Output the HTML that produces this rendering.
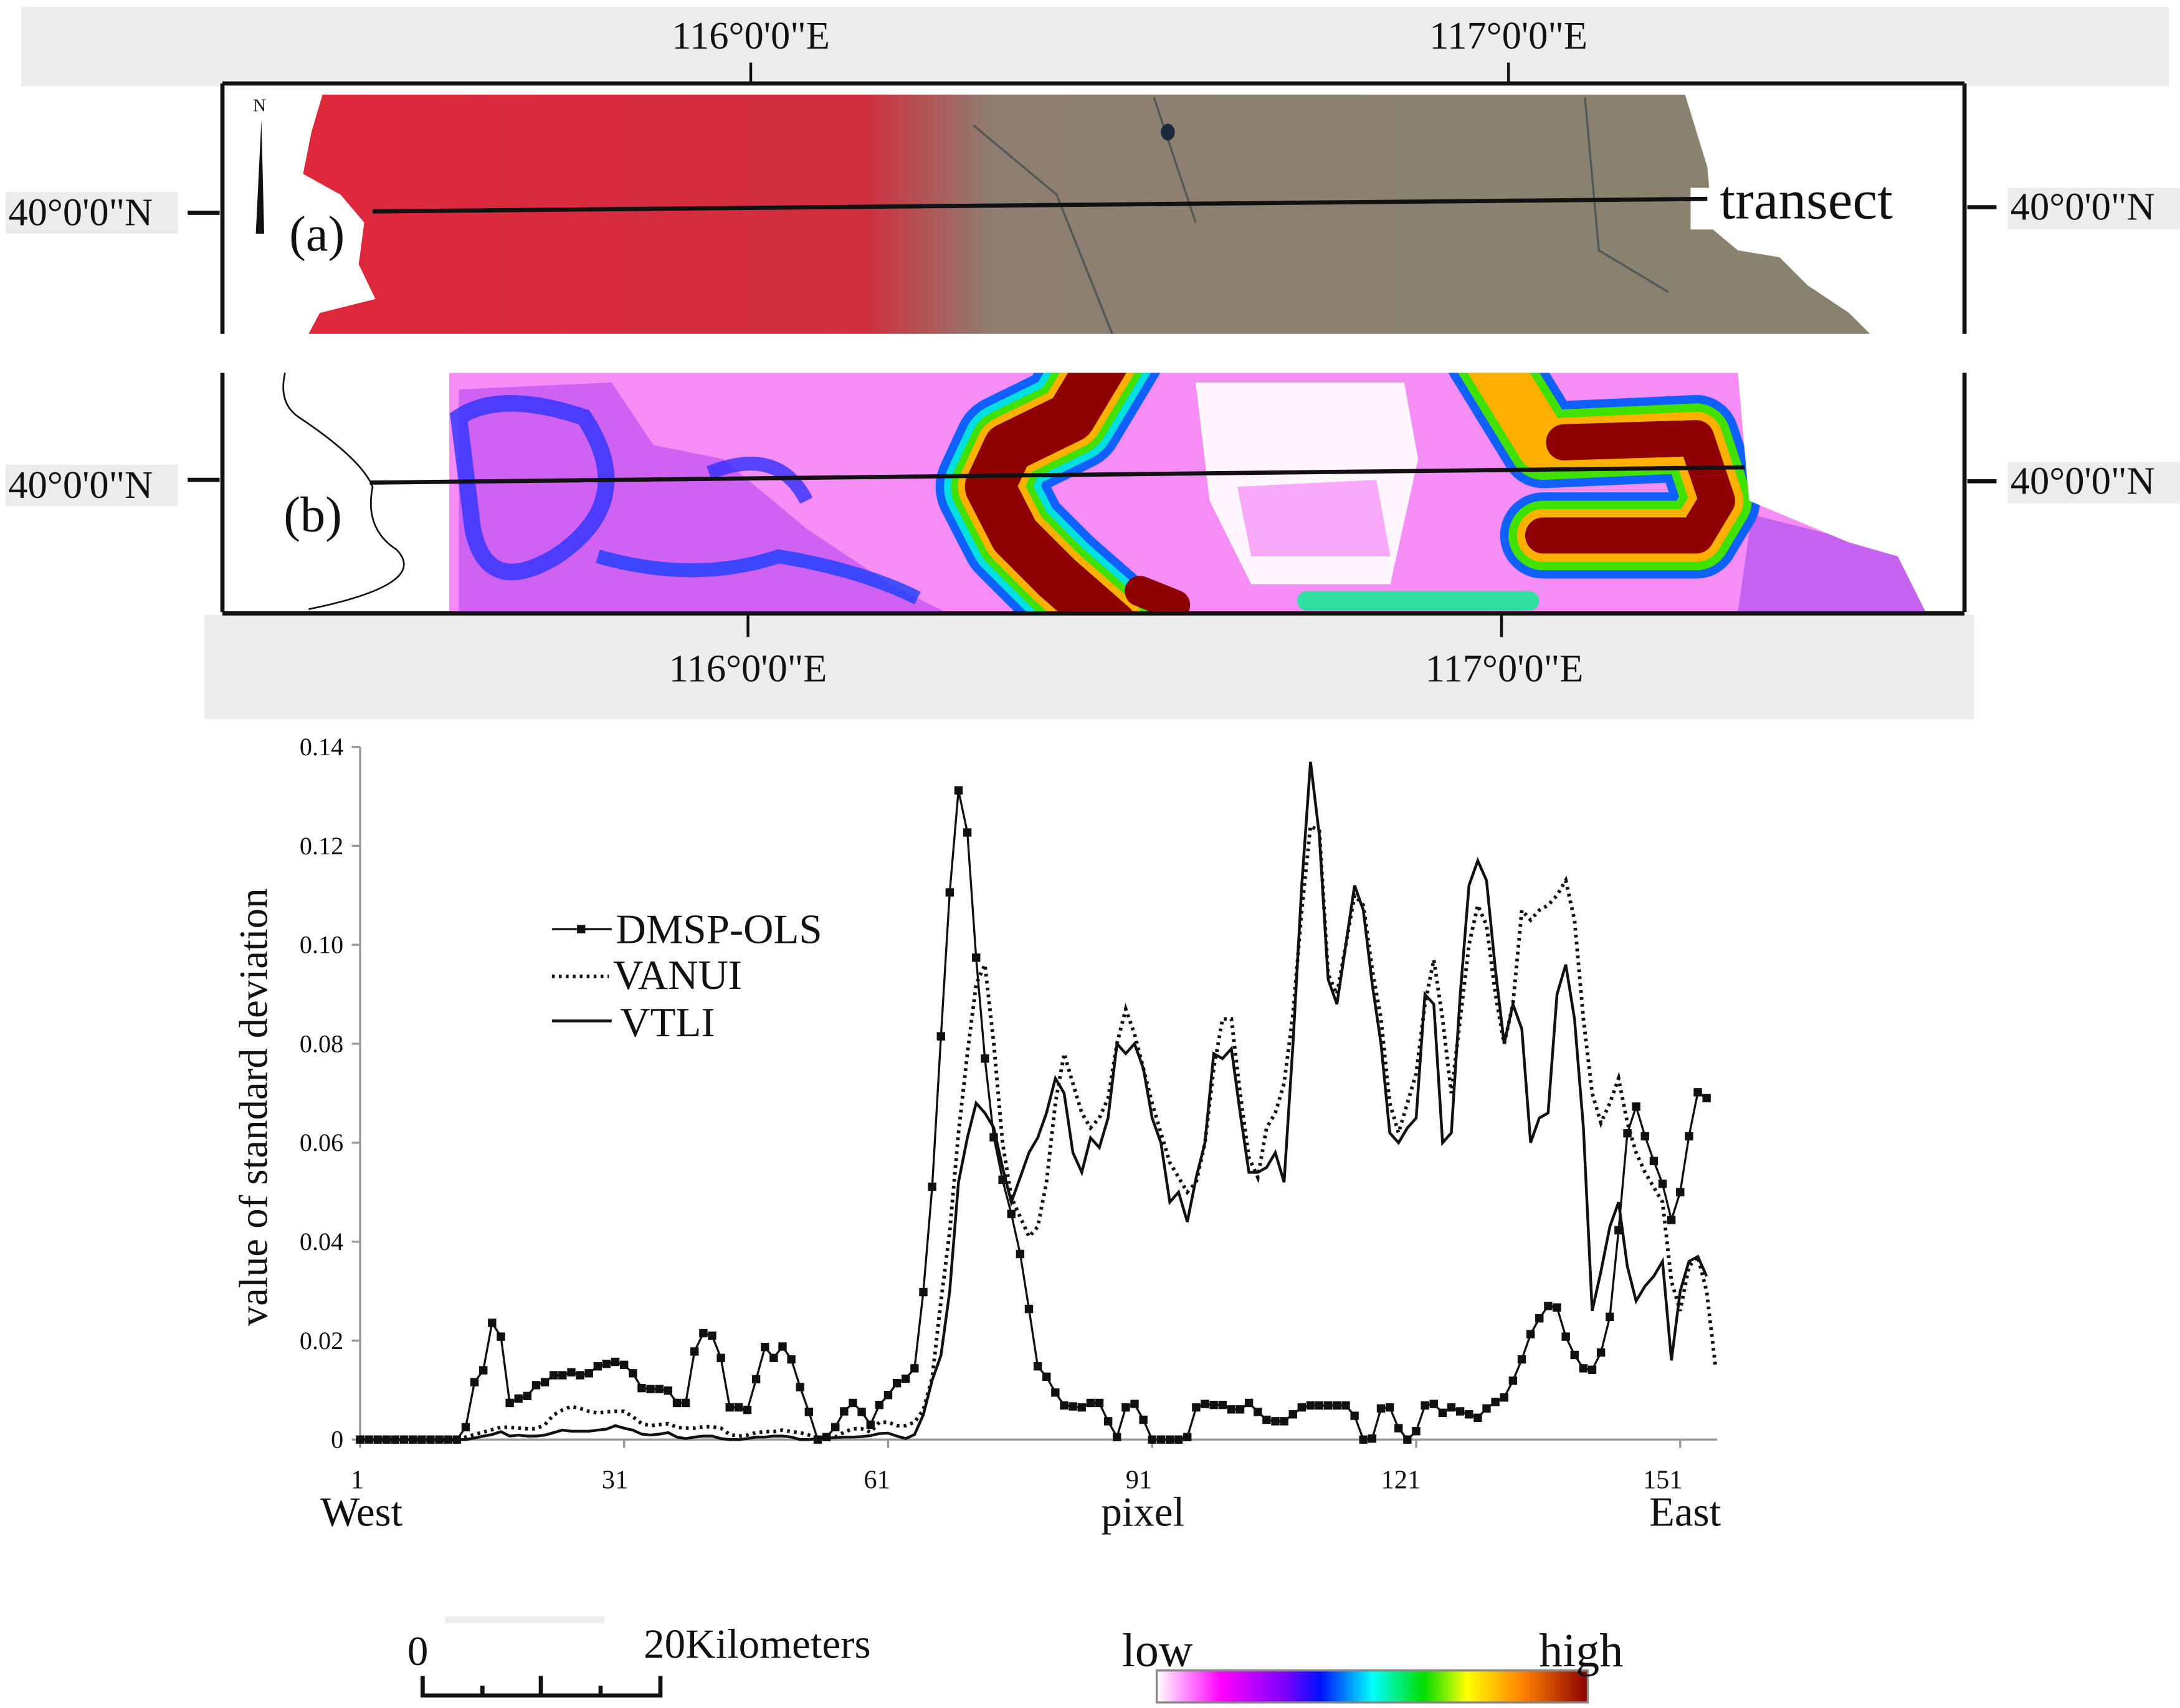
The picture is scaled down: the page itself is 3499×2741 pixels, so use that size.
<!DOCTYPE html>
<html><head><meta charset="utf-8"><style>
html,body{margin:0;padding:0;background:#fff;}
svg{display:block;}
text{font-family:"Liberation Serif",serif;fill:#111;}
</style></head><body>
<svg id="fig" width="3499" height="2741" viewBox="0 0 1568 1228" preserveAspectRatio="none" xmlns="http://www.w3.org/2000/svg">
<defs>
<linearGradient id="redgray" x1="0" x2="1" y1="0" y2="0">
<stop offset="0" stop-color="#e0283c"/><stop offset="0.36" stop-color="#d0303f"/><stop offset="0.44" stop-color="#8e7f70"/><stop offset="1" stop-color="#88836f"/>
</linearGradient>
<linearGradient id="cbar" x1="0" x2="1" y1="0" y2="0">
<stop offset="0" stop-color="#ffffff"/><stop offset="0.15" stop-color="#ff00ff"/><stop offset="0.3" stop-color="#7a00ff"/><stop offset="0.38" stop-color="#0010ff"/><stop offset="0.5" stop-color="#00ffff"/><stop offset="0.62" stop-color="#00dd00"/><stop offset="0.72" stop-color="#ffff00"/><stop offset="0.85" stop-color="#ff8000"/><stop offset="1" stop-color="#8b0000"/>
</linearGradient>
<clipPath id="hmclip"><path d="M323,268 L1250,268 L1258,360 L1330,390 L1365,400 L1385,440 L323,440 Z"/></clipPath>
</defs>

<g>
<rect x="15" y="5" width="1545" height="57" fill="#ececec"/>
<text x="540" y="35" font-size="28" text-anchor="middle">116°0'0"E</text>
<text x="1085" y="35" font-size="28" text-anchor="middle">117°0'0"E</text>
<line x1="540" y1="45" x2="540" y2="60" stroke="#111" stroke-width="2"/>
<line x1="1085" y1="45" x2="1085" y2="60" stroke="#111" stroke-width="2"/>
<rect x="160" y="62" width="1253" height="178" fill="#fff"/>
<path d="M232,68 L1212,68 L1228,120 L1232,165 L1250,180 L1280,185 L1300,205 L1330,225 L1345,240 L222,240 L230,225 L270,215 L258,190 L262,160 L245,140 L218,125 L224,95 Z" fill="url(#redgray)"/>
<path d="M700,90 L760,140 L800,240 M830,70 L860,160 M1140,70 L1150,180 L1200,210" stroke="#2a4048" stroke-width="1.5" fill="none" opacity="0.6"/>
<ellipse cx="840" cy="95" rx="5" ry="6" fill="#1a2a3a"/>
<rect x="1216" y="135" width="195" height="30" fill="#fff"/>
<line x1="268" y1="152" x2="1228" y2="143" stroke="#111" stroke-width="3"/>
<text x="1237" y="157" font-size="40">transect</text>
<text x="208" y="180" font-size="36">(a)</text>
<text x="182" y="80" font-size="13">N</text>
<path d="M188,86 L184,168 L190,168 Z" fill="#111"/>
<line x1="160" y1="60" x2="1413" y2="60" stroke="#111" stroke-width="3"/>
<line x1="160" y1="60" x2="160" y2="240" stroke="#111" stroke-width="3"/>
<line x1="1413" y1="60" x2="1413" y2="240" stroke="#111" stroke-width="3"/>
<rect x="4" y="138" width="124" height="30" fill="#ececec"/>
<text x="6" y="162" font-size="28">40°0'0"N</text>
<line x1="135" y1="153" x2="158" y2="153" stroke="#111" stroke-width="3"/>
<rect x="1444" y="135" width="124" height="30" fill="#ececec"/>
<text x="1446" y="158" font-size="28">40°0'0"N</text>
<line x1="1415" y1="149" x2="1436" y2="149" stroke="#111" stroke-width="3"/>
</g>

<g>
<path d="M205,268 Q200,290 215,300 Q260,330 268,350 Q262,380 285,395 Q310,420 222,438" stroke="#111" stroke-width="1.2" fill="none"/>
<g clip-path="url(#hmclip)">
<path d="M323,268 L1250,268 L1258,360 L1330,390 L1365,400 L1385,440 L323,440 Z" fill="#f68cf6"/>
<path d="M330,280 L440,275 L470,320 L520,330 L580,380 L640,420 L680,440 L330,440 Z" fill="#b040f0" opacity="0.55"/>
<path d="M330,300 Q360,280 420,300 Q460,360 400,400 Q350,430 340,380 Z" fill="none" stroke="#2a34ff" stroke-width="12" opacity="0.8"/>
<path d="M430,400 Q500,420 560,400 Q620,410 660,430" fill="none" stroke="#1840ff" stroke-width="10" opacity="0.8"/>
<path d="M510,340 Q560,320 580,360" fill="none" stroke="#3030ff" stroke-width="10" opacity="0.8"/>
<path d="M860,275 L1010,275 L1020,330 L1000,420 L900,420 L870,360 Z" fill="#fff6ff"/>
<path d="M890,350 L990,345 L1000,400 L900,400 Z" fill="#f8a8f8"/>
<path d="M1260,370 L1380,400 L1385,440 L1250,440 Z" fill="#b050f0" opacity="0.7"/>
<g fill="none" stroke-linejoin="round" stroke-linecap="round">
<path d="M800,250 L770,300 L725,322 L712,350 L730,385 L760,415 L800,450" stroke="#1060ff" stroke-width="78"/>
<path d="M800,250 L770,300 L725,322 L712,350 L730,385 L760,415 L800,450" stroke="#00e0e0" stroke-width="66"/>
<path d="M800,250 L770,300 L725,322 L712,350 L730,385 L760,415 L800,450" stroke="#40e000" stroke-width="56"/>
<path d="M800,250 L770,300 L725,322 L712,350 L730,385 L760,415 L800,450" stroke="#ffb000" stroke-width="46"/>
<path d="M800,250 L770,300 L725,322 L712,350 L730,385 L760,415 L800,450" stroke="#8e0000" stroke-width="36"/>
<path d="M820,425 L845,435" stroke="#8e0000" stroke-width="22"/>
<path d="M1070,255 L1110,320 L1220,315 L1235,360 L1220,385 L1110,385" stroke="#1060ff" stroke-width="62"/>
<path d="M1070,255 L1110,320 L1220,315 L1235,360 L1220,385 L1110,385" stroke="#40e000" stroke-width="50"/>
<path d="M1070,255 L1110,320 L1220,315 L1235,360 L1220,385 L1110,385" stroke="#ffb000" stroke-width="38"/>
<path d="M1125,318 L1220,315 L1235,360 L1220,385 L1110,385" stroke="#8e0000" stroke-width="26"/>
<path d="M940,432 L1100,432" stroke="#30e0a0" stroke-width="14"/>
</g>
</g>
<line x1="266" y1="347" x2="1255" y2="336" stroke="#111" stroke-width="3"/>
<text x="204" y="382" font-size="36">(b)</text>
<line x1="160" y1="268" x2="160" y2="440" stroke="#111" stroke-width="3"/>
<line x1="1413" y1="268" x2="1413" y2="440" stroke="#111" stroke-width="3"/>
<rect x="147" y="442" width="1273" height="75" fill="#ececec"/>
<line x1="160" y1="441" x2="1413" y2="441" stroke="#111" stroke-width="3"/>
<line x1="538" y1="442" x2="538" y2="458" stroke="#111" stroke-width="2"/>
<line x1="1080" y1="442" x2="1080" y2="458" stroke="#111" stroke-width="2"/>
<text x="538" y="490" font-size="28" text-anchor="middle">116°0'0"E</text>
<text x="1082" y="490" font-size="28" text-anchor="middle">117°0'0"E</text>
<rect x="4" y="334" width="124" height="30" fill="#ececec"/>
<text x="6" y="358" font-size="28">40°0'0"N</text>
<line x1="135" y1="345" x2="158" y2="345" stroke="#111" stroke-width="3"/>
<rect x="1444" y="332" width="124" height="30" fill="#ececec"/>
<text x="1446" y="355" font-size="28">40°0'0"N</text>
<line x1="1415" y1="346" x2="1436" y2="346" stroke="#111" stroke-width="3"/>
</g>

<g id="chart"></g>

<g>
<g>
<line x1="397" y1="668" x2="440" y2="668" stroke="#111" stroke-width="1.5"/>
<rect x="415" y="665" width="6" height="6" fill="#111"/>
<text x="443" y="678" font-size="30">DMSP-OLS</text></g>
<g>
<line x1="397" y1="702" x2="438" y2="702" stroke="#111" stroke-width="2.5" stroke-dasharray="2,3"/>
<text x="441" y="711" font-size="30">VANUI</text></g>
<g>
<line x1="397" y1="734" x2="440" y2="734" stroke="#111" stroke-width="2"/>
<text x="446" y="745" font-size="30">VTLI</text></g>
</g>

<g>
<rect x="320" y="1162" width="115" height="5" fill="#eee"/>
<text x="293" y="1197" font-size="30">0</text>
<text x="463" y="1192" font-size="30">20Kilometers</text>
<path d="M304,1205 L304,1219 L475,1219 L475,1205 M347,1212 L347,1219 M389,1205 L389,1219 M432,1212 L432,1219" stroke="#111" stroke-width="3" fill="none"/>
</g>
<g>
<rect x="832" y="1201" width="310" height="23" fill="url(#cbar)" stroke="#888" stroke-width="1.5"/>
<text x="807" y="1198" font-size="34">low</text>
<text x="1107" y="1198" font-size="34">high</text>
</g>
</svg>
<script>
const yTicks = [0, 0.02, 0.04, 0.06, 0.08, 0.10, 0.12, 0.14];
const yTickLabels = ["0", "0.02", "0.04", "0.06", "0.08", "0.10", "0.12", "0.14"];
const xTicks = [1, 31, 61, 91, 121, 151];
const dmsp = [0,0,0,0,0,0,0,0,0,0,0,0,
0.0025,0.0116,0.014,0.0236,0.0208,0.0074,0.0083,0.0088,0.011,0.0116,0.013,0.013,0.0136,0.013,0.0134,0.0148,0.0153,0.0157,0.0151,0.0134,0.0104,0.0102,0.0102,0.0099,0.0074,0.0074,0.0178,0.0215,0.021,0.0165,0.0065,0.0065,0.006,0.0122,0.0187,0.0165,0.0188,0.0162,0.0106,0.0056,
0,0.0005,0.0025,0.0057,0.0074,0.0056,0.003,0.007,0.009,0.0114,0.0123,0.0144,0.0298,0.0511,0.0815,0.1106,0.1312,0.1227,0.0974,0.077,0.0611,0.0525,0.0456,0.0375,0.0264,0.0148,0.0127,0.0095,0.0069,0.0067,0.0065,0.0074,0.0074,0.0037,0.0005,0.0065,0.0072,0.004,0,0,0,0,0.0005,0.0065,0.0072,0.007,0.007,0.0061,0.0061,0.0074,0.0056,0.004,
0.0037,0.0037,0.0051,0.0065,0.0069,0.0069,0.0069,0.0069,0.0069,0.0048,0,0.0002,0.0063,0.0065,0.0023,0,0.0017,0.0069,0.0072,0.0054,0.0065,0.0057,0.0051,0.0044,0.0063,0.0076,0.0085,0.0119,0.0162,0.0213,0.0245,0.027,0.0267,0.0208,0.0171,0.0144,0.0141,0.0176,0.0248,0.0423,0.0619,0.0673,0.0613,0.0563,0.0517,0.0444,0.05,0.0613,0.0702,0.069];
const vanui = [0,0,0,0,0,0,0,0,0,0,0,0,
0.0005,0.001,0.0015,0.002,0.0025,0.0025,0.0023,0.0022,0.0022,0.003,
0.005,0.006,0.0067,0.0063,0.0057,0.0054,0.0056,0.0057,0.0057,0.0046,0.0032,0.0028,0.003,0.0032,0.0025,0.0023,0.0023,0.0026,0.0026,0.0023,0.001,0.0007,0.0009,0.0014,0.0016,0.0016,0.0019,0.0016,0.0014,0.0009,
0.0004,0.0004,0.0005,0.0015,0.0022,0.0022,0.0015,0.0035,0.0035,0.0028,0.0028,0.0035,0.006,0.0125,0.028,0.042,0.062,0.078,0.092,0.096,0.08,0.06,0.049,0.045,0.041,0.043,0.052,0.068,0.078,0.072,0.066,0.063,0.065,0.069,0.08,0.087,0.082,0.075,0.068,0.062,0.056,0.053,0.05,0.052,0.06,0.075,0.085,0.085,0.07,0.057,0.053,0.063,
0.066,0.072,0.086,0.107,0.124,0.123,0.094,0.09,0.1,0.11,0.108,0.095,0.085,0.068,0.062,0.068,0.074,0.088,0.097,0.085,0.07,0.085,0.1,0.108,0.104,0.09,0.08,0.088,0.107,0.105,0.107,0.108,0.11,0.113,0.105,0.085,0.07,0.064,0.068,0.073,0.064,0.058,0.054,0.051,0.048,0.032,0.026,0.035,0.037,0.03,0.015];
const vtli = [0,0,0,0,0,0,0,0,0,0,0,0,
0,0.0003,0.0007,0.001,0.0016,0.0007,0.0009,0.0007,0.0007,0.0009,0.0014,0.0019,0.0017,0.0017,0.0017,0.0019,0.0021,0.0028,0.0023,0.0019,0.0011,0.0009,0.0011,0.0014,0.0005,0.0002,0.0005,0.0007,0.0007,0.0002,0,0,0.0002,0.0005,0.0005,0.0007,0.0007,0.0005,0,0,
0.0002,0.0003,0.0004,0.0005,0.0005,0.0006,0.0008,0.0012,0.0013,0.0007,0.0002,0.001,0.005,0.012,0.017,0.03,0.052,0.061,0.068,0.066,0.063,0.055,0.048,0.053,0.058,0.061,0.066,0.073,0.07,0.058,0.054,0.061,0.059,0.065,0.08,0.078,0.08,0.075,0.065,0.06,0.048,0.05,0.044,0.053,0.06,0.078,0.077,0.079,0.066,0.054,0.054,0.055,
0.058,0.052,0.08,0.112,0.137,0.122,0.093,0.088,0.1,0.112,0.107,0.092,0.08,0.062,0.06,0.063,0.065,0.09,0.088,0.06,0.062,0.09,0.112,0.117,0.113,0.095,0.08,0.088,0.083,0.06,0.065,0.066,0.09,0.096,0.085,0.063,0.026,0.034,0.043,0.048,0.035,0.028,0.031,0.033,0.036,0.016,0.03,0.036,0.037,0.033];

const NS = "http://www.w3.org/2000/svg";
const chart = document.getElementById("chart");
const X = p => 259 + (p - 1) * 6.33;
const Y = v => 1035 - v / 0.14 * 498;
function mk(tag, attrs) { const e = document.createElementNS(NS, tag); for (const k in attrs) e.setAttribute(k, attrs[k]); chart.appendChild(e); return e; }

const yAxis = mk("line", {x1: 259, y1: 537, x2: 259, y2: 1035, stroke: "#999", "stroke-width": 1.5});


const xAxis = mk("line", {x1: 259, y1: 1035, x2: 1235, y2: 1035, stroke: "#999", "stroke-width": 1.5});



yTicks.forEach((v, i) => {
  mk("line", {x1: 253, y1: Y(v), x2: 259, y2: Y(v), stroke: "#999", "stroke-width": 1.5});
  const t = mk("text", {x: 247, y: Y(v) + 6, "font-size": 18, "text-anchor": "end"});
  t.textContent = yTickLabels[i];
  
  
});
xTicks.forEach(p => {
  mk("line", {x1: X(p), y1: 1035, x2: X(p), y2: 1041, stroke: "#999", "stroke-width": 1.5});
  const t = mk("text", {x: X(p) - (p === 1 ? 2 : 5 + p * 0.05), y: 1070, "font-size": 19, "text-anchor": "middle"});
  t.textContent = String(p);
  
  
});
[["West", 260], ["pixel", 822], ["East", 1212]].forEach(([s, x]) => {
  const t = mk("text", {x: x, y: 1097, "font-size": 30, "text-anchor": "middle"});
  t.textContent = s;
  
  
});
const yt = mk("text", {x: 0, y: 0, "font-size": 29, "text-anchor": "middle", transform: "translate(192,796) rotate(-90)"});
yt.textContent = "value of standard deviation";



function pts(arr) { return arr.map((v, i) => X(i + 1).toFixed(1) + "," + Y(v).toFixed(1)).join(" "); }
const l2 = mk("polyline", {points: pts(vanui), fill: "none", stroke: "#111", "stroke-width": 2.6, "stroke-dasharray": "2,3"});


const l3 = mk("polyline", {points: pts(vtli), fill: "none", stroke: "#111", "stroke-width": 2});


const l1 = mk("polyline", {points: pts(dmsp), fill: "none", stroke: "#111", "stroke-width": 1.5});


dmsp.forEach((v, i) => {
  const r = mk("rect", {x: X(i + 1) - 3, y: Y(v) - 3, width: 6, height: 6, fill: "#111"});
  
  
});
</script>
</body></html>
